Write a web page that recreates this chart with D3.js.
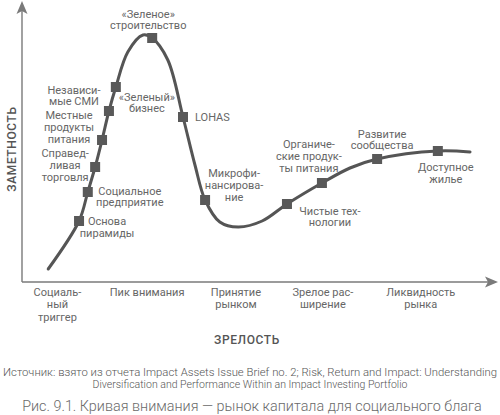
<!DOCTYPE html>
<html><head><meta charset="utf-8">
<script src="https://cdn.jsdelivr.net/npm/d3@7"></script>
<style>
body{margin:0;background:#fff;}
svg{display:block;font-family:Roboto,"DejaVu Sans",sans-serif;}
</style></head>
<body>
<script>
// ---- data ----
// hype curve path points: maturity (x), visibility (y)
const curveX = [5.7,12.4,14.3,15.9,17.4,18.9,20.4,23.0,26.3,28.3,31.7,35.0,37.6,39.8,43.0,47.0,52.2,57.6,65.2,71.3,77.2,90.4,97.4];
const curveY = [5.2,24.4,36.0,46.0,56.8,68.4,78.0,92.0,98.8,97.6,88.8,66.0,46.8,32.8,24.0,22.0,24.4,31.2,39.6,45.6,49.2,52.4,52.0];
// markers: index into curve points and label
const markerIdx = [1,2,3,4,5,6,9,11,13,17,18,20,21];
const markerLabels = [
  ["Основа","пирамиды"],
  ["Социальное","предприятие"],
  ["Справед-","ливая","торговля"],
  ["Местные","продукты","питания"],
  ["Независи-","мые СМИ"],
  ["«Зеленый»","бизнес"],
  ["«Зеленое»","строительство"],
  ["LOHAS"],
  ["Микрофи-","нансирова-","ние"],
  ["Чистые тех-","нологии"],
  ["Органиче-","ские продук-","ты питания"],
  ["Развитие","сообщества"],
  ["Доступное","жилье"]
];
const stageLabels = [
  ["Социаль-","ный","триггер"],
  ["Пик внимания"],
  ["Принятие","рынком"],
  ["Зрелое рас-","ширение"],
  ["Ликвидность","рынка"]
];
const stagePos = [7.7, 27.2, 46.5, 65.4, 86.7]; // maturity value of each stage label
const xTitle = "ЗРЕЛОСТЬ";
const yTitle = "ЗАМЕТНОСТЬ";
const sourceLines = ["Источник: взято из отчета  Impact Assets Issue Brief no. 2; Risk, Return and Impact: Understanding",
                     "Diversification and Performance Within an Impact Investing Portfolio"];
const caption = "Рис. 9.1. Кривая внимания — рынок капитала для социального блага";

// ---- layout (label placement relative to marker, px) ----
const labelLayout = [
  {dx:28,dy:6,a:"middle"},
  {dx:42,dy:4.5,a:"middle"},
  {dx:-30,dy:-2,a:"middle"},
  {dx:-33,dy:-13,a:"middle"},
  {dx:-35,dy:-15.5,a:"middle"},
  {dx:31,dy:15.5,a:"middle"},
  {dx:-4,dy:-18.5,a:"middle"},
  {dx:12,dy:0,a:"start"},
  {dx:29,dy:-15,a:"middle"},
  {dx:43,dy:12.5,a:"middle"},
  {dx:-13,dy:-27,a:"middle"},
  {dx:5,dy:-19.5,a:"middle"},
  {dx:8,dy:22,a:"middle"}
];

const W=500,H=415;
const svg=d3.select("body").append("svg").attr("width",W).attr("height",H);
const x=d3.scaleLinear().domain([0,100]).range([22,482]);
const y=d3.scaleLinear().domain([0,100]).range([282,32]);
const axisCol="#7a7a7a", curveCol="#555", textCol="#666";

// axes
svg.append("line").attr("x1",x(0)).attr("x2",488).attr("y1",y(0)).attr("y2",y(0))
  .attr("stroke",axisCol).attr("stroke-width",1.4);
svg.append("line").attr("x1",x(0)).attr("x2",x(0)).attr("y1",y(0)).attr("y2",10)
  .attr("stroke",axisCol).attr("stroke-width",1.4);
svg.append("path").attr("d",`M498,${y(0)} L485,${y(0)-5.5} L488,${y(0)} L485,${y(0)+5.5} Z`).attr("fill",axisCol);
svg.append("path").attr("d",`M${x(0)},1 L${x(0)-5.5},14 L${x(0)},11 L${x(0)+5.5},14 Z`).attr("fill",axisCol);

// curve
const pts=curveX.map((v,i)=>[v,curveY[i]]);
const line=d3.line().x(d=>x(d[0])).y(d=>y(d[1])).curve(d3.curveCatmullRom.alpha(0.5));
svg.append("path").attr("d",line(pts)).attr("fill","none").attr("stroke",curveCol)
  .attr("stroke-width",3).attr("stroke-linecap","round");

// markers
const ms=10;
svg.selectAll("rect.m").data(markerIdx).join("rect").attr("class","m")
  .attr("x",i=>x(curveX[i])-ms/2).attr("y",i=>y(curveY[i])-ms/2)
  .attr("width",ms).attr("height",ms).attr("fill","#595959");

// marker labels
const fs=11, lh=11.8;
markerIdx.forEach((idx,k)=>{
  const L=labelLayout[k], lines=markerLabels[k];
  const cx=x(curveX[idx])+L.dx, cy=y(curveY[idx])+L.dy;
  const t=svg.append("text").attr("font-size",fs).attr("fill",textCol).attr("text-anchor",L.a);
  lines.forEach((s,j)=>{
    t.append("tspan").attr("x",cx).attr("y",cy+(j-(lines.length-1)/2)*lh+fs*0.36).text(s);
  });
});

// stage labels
stageLabels.forEach((lines,k)=>{
  const t=svg.append("text").attr("font-size",fs).attr("fill",textCol).attr("text-anchor","middle");
  lines.forEach((s,j)=>t.append("tspan").attr("x",x(stagePos[k])).attr("y",296+j*12.3).text(s));
});

// axis titles
svg.append("text").attr("x",247).attr("y",344).attr("text-anchor","middle")
  .attr("font-size",12).attr("font-weight",500).attr("fill","#555").attr("letter-spacing",0.6).text(xTitle);
svg.append("text").attr("transform","translate(16,149) rotate(-90)").attr("text-anchor","middle")
  .attr("font-size",12).attr("font-weight",500).attr("fill","#555").attr("letter-spacing",0.6).text(yTitle);

// source
const srcLen=[494,315];
sourceLines.forEach((s,j)=>{
  svg.append("text").attr("x",250).attr("y",376+j*11.5).attr("text-anchor","middle")
    .attr("font-size",10.6).attr("font-weight",300).attr("fill","#555").attr("textLength",srcLen[j]).attr("lengthAdjust","spacingAndGlyphs").text(s);
});
// caption
svg.append("text").attr("x",252).attr("y",411).attr("text-anchor","middle")
  .attr("font-size",14.4).attr("font-weight",300).attr("fill","#6a6a6a").text(caption);
</script>
</body></html>
